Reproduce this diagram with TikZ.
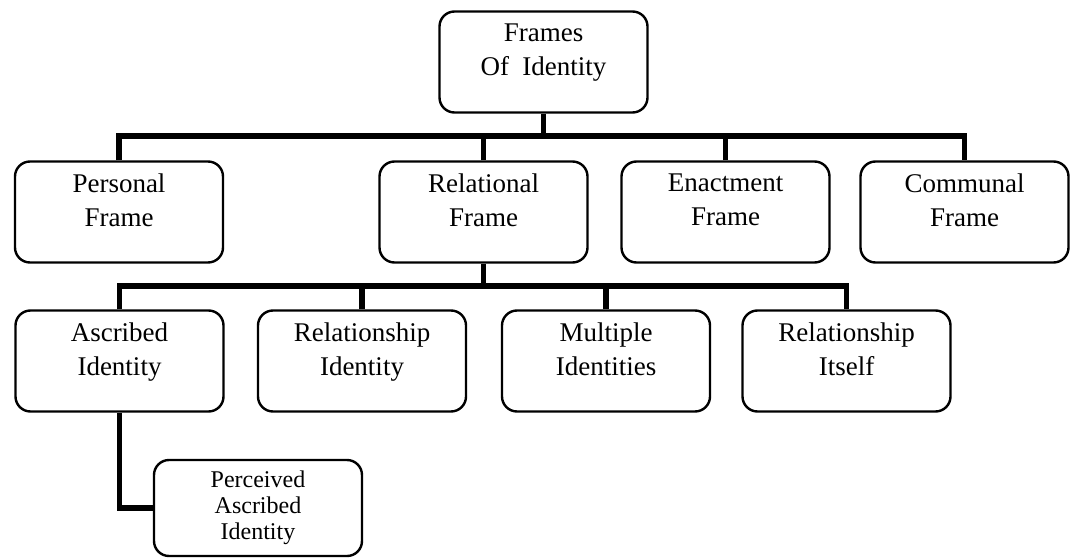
\documentclass[tikz,border=0pt]{standalone}
\usepackage{fontspec}
\setmainfont{Liberation Serif}
\tikzset{
  frame/.style = {draw, line width=2.4pt, rounded corners=15pt,
    minimum width=208pt, minimum height=101pt, align=center,
    font=\fontsize{27}{34}\selectfont, text depth=24pt},
  subframe/.style = {frame, minimum height=96pt,
    font=\fontsize{24}{26}\selectfont, text depth=6pt},
  link/.style = {line width=5.5pt}
}

\begin{document}
\begin{tikzpicture}[x=1pt,y=-1pt]
  \useasboundingbox (0,0) rectangle (1070,559);
  % top
  \node[frame] (frames) at (543.5,62) {Frames\\Of\ \ Identity};
  % frames
  \node[frame] (personal) at (119,212) {Personal\\Frame};
  \node[frame] (relational) at (483.5,212) {Relational\\Frame};
  \node[frame] (enactment) at (725.5,212) {Enactment\\Frame};
  \node[frame] (communal) at (964.5,212) {Communal\\Frame};
  % relational frame
  \node[frame] (ascribed) at (119.5,361) {Ascribed\\Identity};
  \node[frame] (relid) at (362,361) {Relationship\\Identity};
  \node[frame] (multiple) at (606,361) {Multiple\\Identities};
  \node[frame] (itself) at (846.5,361) {Relationship\\Itself};
  % ascribed identity
  \node[subframe] (perceived) at (258,508) {Perceived\\Ascribed\\Identity};
  % links
  \coordinate (bar1) at (0,136);
  \coordinate (bar2) at (0,286);
  \draw[link] (frames.south) -- (frames.south |- bar1);
  \draw[link] (personal.north) |- (personal.north |- bar1) -| (communal.north);
  \foreach \X in {relational,enactment} { \draw[link] (\X.north) -- (\X.north |- bar1); };
  \draw[link] (relational.south) -- (relational.south |- bar2);
  \draw[link] (ascribed.north) |- (ascribed.north |- bar2) -| (itself.north);
  \foreach \X in {relid,multiple} { \draw[link] (\X.north) -- (\X.north |- bar2); };
  \draw[link] (ascribed.south) |- (perceived.west);
\end{tikzpicture}
\end{document}
